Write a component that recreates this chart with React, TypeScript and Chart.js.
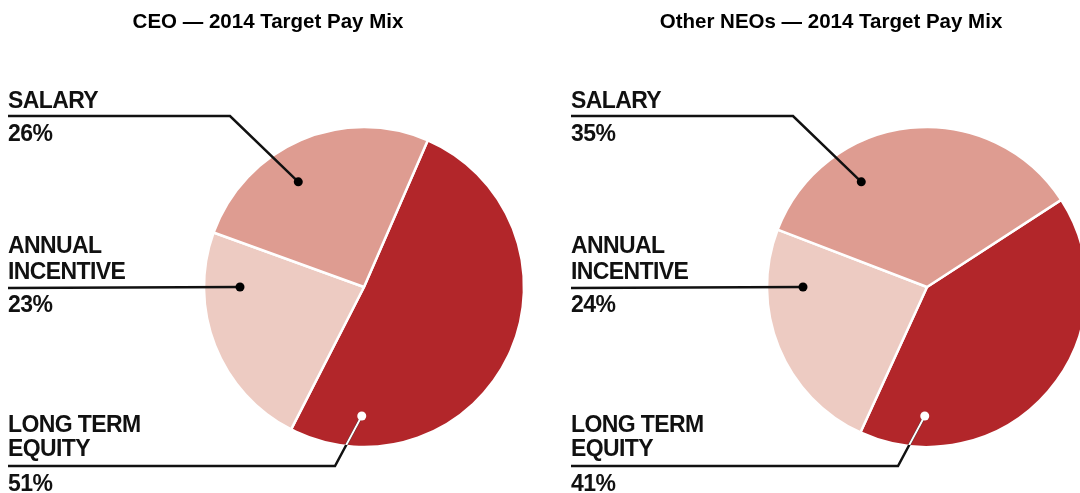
import React, { useEffect, useRef } from "react";
import { Chart, registerables } from "chart.js";

Chart.register(...registerables);

// ---- data ----
const categories = ["LONG TERM EQUITY", "ANNUAL INCENTIVE", "SALARY"];
const labelLines = [["LONG TERM", "EQUITY"], ["ANNUAL", "INCENTIVE"], ["SALARY"]];
const ceoValues = [51, 23, 26];
const neoValues = [41, 24, 35];
const ceoTitle = "CEO — 2014 Target Pay Mix";
const neoTitle = "Other NEOs — 2014 Target Pay Mix";

// ---- styles / layout ----
const sliceColors = ["#B2262A", "#EDCBC2", "#DE9C91"];
const CANVAS_W = 560;
const CANVAS_H = 493;
const PIE_RADIUS = 160;
const LABEL_FONT = "bold 23px 'Liberation Sans', Arial, sans-serif";
const TITLE_FONT = "bold 20.5px 'Liberation Sans', Arial, sans-serif";

// label layout per slice index: text baselines, underline y, elbow x, dot polar (deg clockwise from top, distance)
const labelLayout = [
  { baselines: [432, 456], pctBaseline: 491, lineY: 466, elbowX: 327, dotAngle: 181, dotDist: 129, light: true },
  { baselines: [253, 279], pctBaseline: 312, lineY: 288, elbowX: null, dotAngle: 270, dotDist: 124, light: false },
  { baselines: [108], pctBaseline: 141, lineY: 116, elbowX: 222, dotAngle: 328, dotDist: 124, light: false },
];

const labelPlugin = {
  id: "payMixLabels",
  afterDraw(chart: any) {
    const ctx = chart.ctx as CanvasRenderingContext2D;
    const opts = chart.options.plugins.payMixLabels;
    const meta = chart.getDatasetMeta(0);
    const values = chart.data.datasets[0].data as number[];
    const arc0 = meta.data[0];
    const cx = arc0.x;
    const cy = arc0.y;
    const r = arc0.outerRadius;

    ctx.save();
    // title
    ctx.font = TITLE_FONT;
    ctx.fillStyle = "#000";
    ctx.textAlign = "center";
    ctx.textBaseline = "alphabetic";
    ctx.fillText(opts.title, opts.titleX, 28);

    ctx.textAlign = "left";
    ctx.font = LABEL_FONT;
    (ctx as any).letterSpacing = "-0.6px";
    ctx.fillStyle = "#111";

    labelLayout.forEach((lay, i) => {
      const lines = labelLines[i];
      lines.forEach((t, k) => ctx.fillText(t, 0, lay.baselines[k]));
      ctx.fillText(`${values[i]}%`, 0, lay.pctBaseline);

      const a = (lay.dotAngle * Math.PI) / 180;
      const dx = cx + lay.dotDist * Math.sin(a);
      const dy = cy - lay.dotDist * Math.cos(a);

      ctx.lineWidth = 2.5;
      ctx.strokeStyle = "#111";
      ctx.lineJoin = "miter";
      ctx.beginPath();
      ctx.moveTo(0, lay.lineY);
      if (lay.elbowX !== null) ctx.lineTo(lay.elbowX, lay.lineY);
      ctx.lineTo(dx, dy);
      ctx.stroke();

      if (lay.light) {
        // white part inside the pie
        ctx.save();
        ctx.beginPath();
        ctx.arc(cx, cy, r - 1, 0, Math.PI * 2);
        ctx.clip();
        ctx.strokeStyle = "#fff";
        ctx.lineWidth = 2;
        ctx.beginPath();
        ctx.moveTo(lay.elbowX as number, lay.lineY);
        ctx.lineTo(dx, dy);
        ctx.stroke();
        ctx.restore();
      }
      ctx.fillStyle = lay.light ? "#fff" : "#000";
      ctx.beginPath();
      ctx.arc(dx, dy, 4.5, 0, Math.PI * 2);
      ctx.fill();
      ctx.fillStyle = "#111";
    });
    ctx.restore();
  },
};

function PiePanel({ title, values, rotation, left }: { title: string; values: number[]; rotation: number; left: number }) {
  const ref = useRef<HTMLCanvasElement | null>(null);
  useEffect(() => {
    if (!ref.current) return;
    const chart = new Chart(ref.current, {
      type: "pie",
      data: {
        labels: categories,
        datasets: [
          {
            data: values,
            backgroundColor: sliceColors,
            borderColor: "#ffffff",
            borderWidth: 2.5,
            radius: PIE_RADIUS,
            hoverOffset: 0,
          } as any,
        ],
      },
      options: {
        responsive: false,
        animation: false,
        events: [],
        rotation,
        layout: { padding: { left: 152, right: 0, top: 81, bottom: 0 } },
        plugins: {
          legend: { display: false },
          tooltip: { enabled: false },
          title: { display: false },
          payMixLabels: { title, titleX: 260 },
        } as any,
      },
      plugins: [labelPlugin],
    });
    return () => chart.destroy();
  }, [title, values, rotation]);
  return (
    <div style={{ position: "absolute", left, top: 0, width: CANVAS_W, height: CANVAS_H }}>
      <canvas ref={ref} width={CANVAS_W} height={CANVAS_H} style={{ width: CANVAS_W, height: CANVAS_H, display: "block" }} />
    </div>
  );
}

export default function App() {
  return (
    <div
      style={{
        position: "absolute",
        left: 0,
        top: 0,
        width: 1080,
        height: 493,
        overflow: "hidden",
        background: "#ffffff",
      }}
    >
      <PiePanel title={ceoTitle} values={ceoValues} rotation={23.5} left={8} />
      <PiePanel title={neoTitle} values={neoValues} rotation={57} left={571} />
    </div>
  );
}
